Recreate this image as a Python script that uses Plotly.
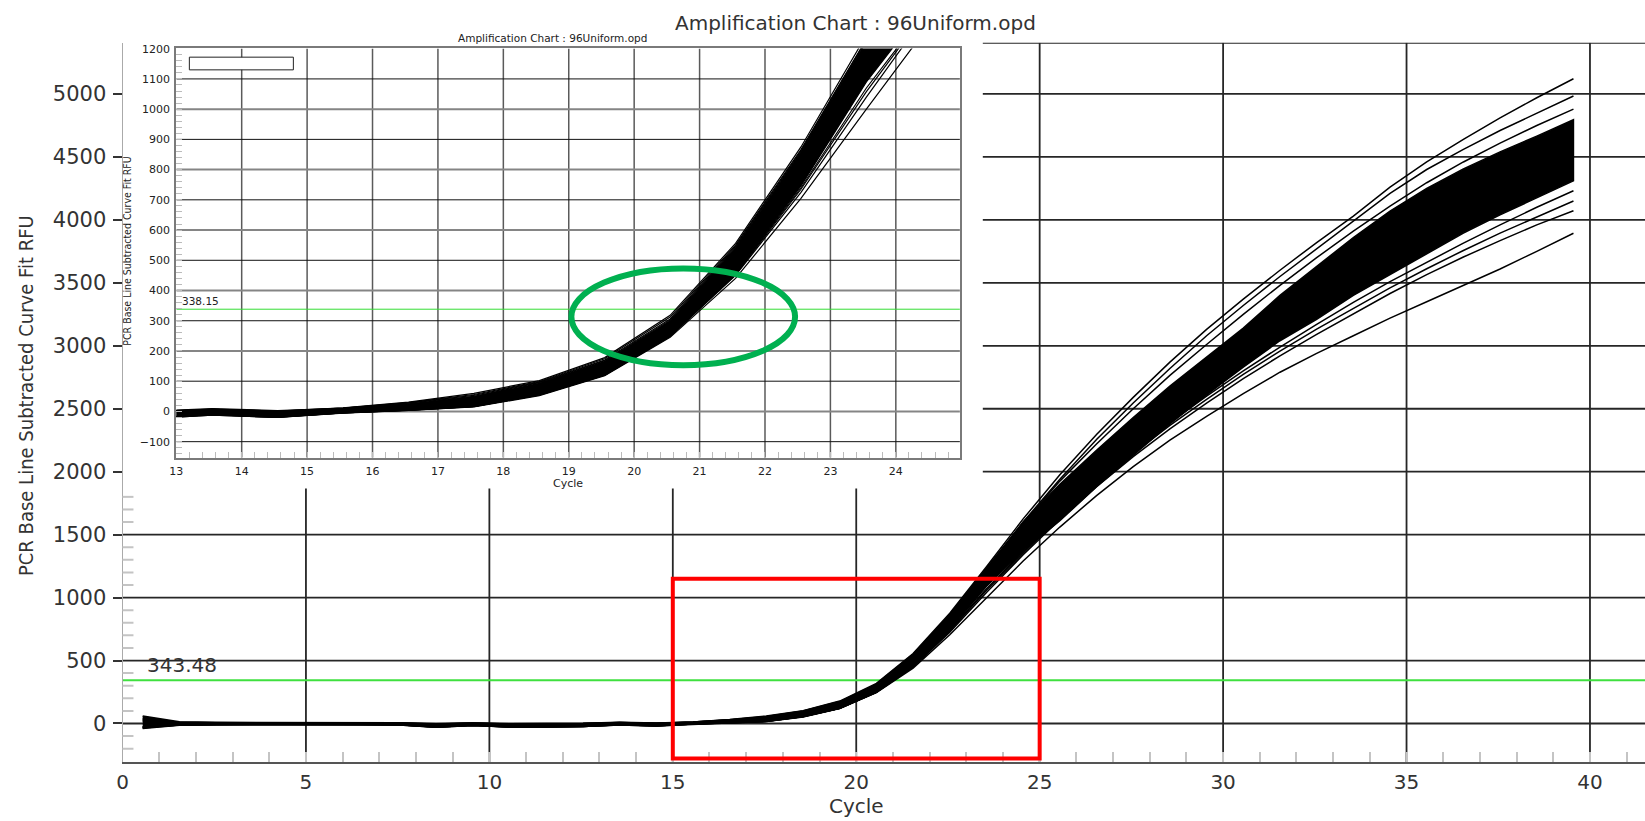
import plotly.graph_objects as go

# ---------------- data ----------------
cycles = [0.55, 1.55, 2.55, 3.55, 4.55, 5.55, 6.55, 7.55, 8.55, 9.55,
          10.55, 11.55, 12.55, 13.55, 14.55, 15.55, 16.55, 17.55, 18.55, 19.55,
          20.55, 21.55, 22.55, 23.55, 24.55, 25.55, 26.55, 27.55, 28.55, 29.55,
          30.55, 31.55, 32.55, 33.55, 34.55, 35.55, 36.55, 37.55, 38.55, 39.55]

# dense core of the ~96 wells (lower / upper envelope)
core_lo = [-40, -14, -10, -9, -8, -7, -10, -12, -30, -16, -28, -27, -24, -12, -20,
           -6, 3, 16, 55, 121, 250, 455, 746, 1090, 1370, 1610, 1880, 2130, 2380, 2610,
           2830, 3040, 3210, 3400, 3570, 3730, 3895, 4040, 4175, 4310]
core_hi = [60, 14, 9, 9, 11, 11, 7, 6, -2, 4, -2, -1, 1, 9, 3,
           11, 27, 50, 95, 168, 302, 542, 858, 1225, 1600, 1900, 2170, 2430, 2680, 2910,
           3140, 3400, 3630, 3860, 4070, 4250, 4405, 4540, 4665, 4795]

# individual wells visible outside the core
top1 = [40, 10, 6, 6, 8, 8, 4, 3, -4, 3, -4, -3, -1, 8, 1,
        12, 31, 60, 102, 178, 318, 556, 875, 1245, 1625, 1975, 2295, 2590, 2870, 3130,
        3370, 3600, 3820, 4030, 4260, 4460, 4640, 4810, 4970, 5121]
top2 = [30, 8, 5, 5, 7, 7, 3, 2, -5, 2, -5, -4, -2, 7, 0,
        11, 29, 56, 99, 174, 312, 550, 866, 1232, 1600, 1940, 2255, 2545, 2820, 3080,
        3320, 3550, 3770, 3990, 4210, 4400, 4560, 4710, 4850, 4984]
top3 = [20, 6, 4, 4, 6, 6, 2, 1, -6, 1, -6, -5, -3, 6, -1,
        10, 28, 53, 97, 170, 306, 546, 862, 1230, 1590, 1925, 2220, 2500, 2765, 3010,
        3250, 3480, 3700, 3910, 4110, 4295, 4460, 4610, 4750, 4880]
low1 = [-35, -13, -10, -9, -8, -7, -10, -12, -29, -16, -28, -27, -24, -12, -20,
        -5, 3, 15, 52, 118, 245, 440, 705, 1000, 1290, 1560, 1810, 2040, 2250, 2440,
        2620, 2790, 2940, 3080, 3220, 3350, 3480, 3610, 3750, 3894]
low2 = [-30, -12, -9, -8, -7, -6, -9, -11, -28, -15, -27, -26, -23, -11, -19,
        -4, 4, 17, 54, 120, 248, 450, 725, 1040, 1340, 1620, 1880, 2120, 2340, 2545,
        2740, 2920, 3090, 3255, 3415, 3565, 3705, 3835, 3960, 4073]
low3 = [-25, -11, -8, -7, -6, -5, -8, -10, -27, -14, -26, -25, -22, -10, -18,
        -5, 4, 17, 55, 121, 250, 455, 740, 1070, 1360, 1650, 1915, 2165, 2390, 2600,
        2800, 2990, 3170, 3345, 3510, 3665, 3815, 3960, 4100, 4231]
low4 = [-28, -12, -9, -8, -7, -6, -9, -11, -28, -15, -27, -26, -23, -11, -19,
        -5, 4, 17, 55, 121, 250, 452, 735, 1058, 1352, 1638, 1900, 2145, 2368, 2575,
        2772, 2958, 3133, 3300, 3460, 3612, 3757, 3895, 4025, 4150]

main_threshold = 343.48
inset_threshold = 338.15
main_xticks = [0, 5, 10, 15, 20, 25, 30, 35, 40]
main_yticks = [0, 500, 1000, 1500, 2000, 2500, 3000, 3500, 4000, 4500, 5000]
inset_xticks = [13, 14, 15, 16, 17, 18, 19, 20, 21, 22, 23, 24]
inset_yticks = [-100, 0, 100, 200, 300, 400, 500, 600, 700, 800, 900, 1000, 1100, 1200]

title_text = "Amplification Chart : 96Uniform.opd"
y_title = "PCR Base Line Subtracted Curve Fit RFU"
x_title = "Cycle"

# highlight marks (in axis units)
red_box = [15, 25, -278, 1149]            # main chart: x0, x1, y0, y1
green_ellipse = [19.04, 22.46, 153, 473]  # inset chart: x0, x1, y0, y1

# ---------------- geometry ----------------
W, H = 1645, 821
MAIN_L, MAIN_R, MAIN_T, MAIN_B = 116, 1645, 37, 761.7
MAIN_XR = [0, 41.5]
MAIN_YR = [-307, 5407]
INS_L, INS_R, INS_T, INS_B = 170, 957, 42.7, 455
INS_XR = [13, 24.98]
INS_YR = [-153, 1201]
# extent of the white inset panel expressed in main-axis units
PANEL_X = 23.45
PANEL_Y = 1867

FONT = "DejaVu Sans"
NARROW = "Liberation Sans Narrow, DejaVu Sans Condensed, DejaVu Sans"
TXT = "#333333"


def px(x):
    return x / W


def py(y):
    return 1 - y / H


fig = go.Figure()

well_lines = [top1, top2, top3, low1, low2, low3, low4]


def add_curves(xa, ya, lw):
    fig.add_trace(go.Scatter(
        x=cycles + cycles[::-1], y=core_hi + core_lo[::-1],
        xaxis=xa, yaxis=ya, mode="lines", fill="toself",
        fillcolor="black", line=dict(color="black", width=lw),
        hoverinfo="skip", showlegend=False))
    for w in well_lines:
        fig.add_trace(go.Scatter(
            x=cycles, y=w, xaxis=xa, yaxis=ya, mode="lines",
            line=dict(color="black", width=lw), hoverinfo="skip",
            showlegend=False))


# threshold lines
fig.add_trace(go.Scatter(x=[MAIN_XR[0], MAIN_XR[1]], y=[main_threshold] * 2,
                         mode="lines", line=dict(color="#3fe03f", width=2),
                         xaxis="x", yaxis="y", hoverinfo="skip", showlegend=False))
add_curves("x", "y", 1.5)

fig.add_trace(go.Scatter(x=[INS_XR[0], INS_XR[1]], y=[inset_threshold] * 2,
                         mode="lines", line=dict(color="#33dd33", width=1),
                         xaxis="x2", yaxis="y2", hoverinfo="skip", showlegend=False))
add_curves("x2", "y2", 1.2)

shapes = []
GRID = "#262626"
# main vertical grid lines (hidden behind the inset panel)
for v in main_xticks[1:]:
    top = MAIN_YR[1] if v > PANEL_X else PANEL_Y
    shapes.append(dict(type="line", xref="x", yref="y", x0=v, x1=v,
                       y0=MAIN_YR[0], y1=top, layer="below",
                       line=dict(color=GRID, width=1.8)))
# main horizontal grid lines
for h in main_yticks + [MAIN_YR[1]]:
    left = MAIN_XR[0] if h < PANEL_Y else PANEL_X
    shapes.append(dict(type="line", xref="x", yref="y", x0=left, x1=MAIN_XR[1],
                       y0=h, y1=h, layer="below",
                       line=dict(color=GRID, width=1.8)))
# main minor y ticks (inside), below the inset panel only
for m in range(-200, int(PANEL_Y), 100):
    if m % 500 == 0:
        continue
    shapes.append(dict(type="line", xref="x domain", yref="y", x0=0, x1=11 / (MAIN_R - MAIN_L),
                       y0=m, y1=m, layer="above",
                       line=dict(color="#c4c4c4", width=2)))

# inset grid lines
for v in inset_xticks[1:]:
    shapes.append(dict(type="line", xref="x2", yref="y2", x0=v, x1=v,
                       y0=INS_YR[0], y1=INS_YR[1], layer="below",
                       line=dict(color="#5a5a5a", width=1.5)))
for h in inset_yticks[:-1]:
    even = (h % 200 == 0)
    shapes.append(dict(type="line", xref="x2", yref="y2", x0=INS_XR[0], x1=INS_XR[1],
                       y0=h, y1=h, layer="below",
                       line=dict(color="#858585" if even else "#111111",
                                 width=2 if even else 1)))
# empty legend box of the inset
shapes.append(dict(type="rect", xref="x2", yref="y2", x0=13.2, x1=14.79, y0=1130, y1=1172,
                   layer="above", fillcolor="white", line=dict(color="#222", width=1)))
# red highlight rectangle on the main chart
shapes.append(dict(type="rect", xref="x", yref="y",
                   x0=red_box[0], x1=red_box[1], y0=red_box[2], y1=red_box[3],
                   layer="above", line=dict(color="#ff0000", width=4)))
# green ellipse on the inset
shapes.append(dict(type="circle", xref="x2", yref="y2",
                   x0=green_ellipse[0], x1=green_ellipse[1],
                   y0=green_ellipse[2], y1=green_ellipse[3],
                   layer="above", line=dict(color="#00b050", width=6)))


def paper_text(text, x, y, size, color=TXT, family=FONT, angle=0):
    return dict(text=text, x=px(x), y=py(y), xref="paper", yref="paper",
                xanchor="center", yanchor="middle", textangle=angle,
                showarrow=False, font=dict(family=family, size=size, color=color))


annotations = [
    paper_text(title_text, 852, 17, 20),
    paper_text(title_text, 548, 32, 10.5, "#222"),
    paper_text(y_title, 19, 392, 20, TXT, NARROW, -90),
    paper_text(y_title, 121, 247, 10.5, "#222", NARROW, -90),
    paper_text(x_title, 853, 806, 20),
    paper_text(x_title, 563, 481, 11, "#222"),
    dict(text=f"{main_threshold:.2f}", x=0.6, y=main_threshold, xref="x", yref="y",
         xanchor="left", yanchor="bottom", yshift=1, showarrow=False,
         font=dict(family=FONT, size=20, color=TXT)),
    dict(text=f"{inset_threshold:.2f}", x=13.05, y=inset_threshold, xref="x2", yref="y2",
         xanchor="left", yanchor="bottom", yshift=0, showarrow=False,
         font=dict(family=FONT, size=10.5, color="#222")),
]

fig.update_layout(
    width=W, height=H, margin=dict(l=0, r=0, t=0, b=0, pad=0),
    paper_bgcolor="white", plot_bgcolor="white", showlegend=False,
    shapes=shapes, annotations=annotations,
    xaxis=dict(domain=[px(MAIN_L), px(MAIN_R)], range=MAIN_XR, anchor="y",
               tickmode="array", tickvals=main_xticks,
               ticks="inside", ticklen=10, tickwidth=2, tickcolor="#c4c4c4",
               minor=dict(tickmode="linear", tick0=0, dtick=1, ticks="inside",
                          ticklen=10, tickwidth=2, tickcolor="#c4c4c4", showgrid=False),
               showgrid=False, zeroline=False, showline=True, linecolor="#555",
               linewidth=2, tickfont=dict(family=FONT, size=20, color=TXT),
               ticklabelstandoff=1),
    yaxis=dict(domain=[py(MAIN_B), py(MAIN_T)], range=MAIN_YR, anchor="x",
               tickmode="array", tickvals=main_yticks,
               ticks="outside", ticklen=9, tickwidth=2, tickcolor="#333",
               showgrid=False, zeroline=False, showline=True, linecolor="#aaaaaa",
               linewidth=1, tickfont=dict(family=FONT, size=21, color=TXT),
               ticklabelstandoff=2),
    xaxis2=dict(domain=[px(INS_L), px(INS_R)], range=INS_XR, anchor="y2",
                tickmode="array", tickvals=inset_xticks,
                ticks="inside", ticklen=6, tickwidth=1, tickcolor="#bbbbbb",
                minor=dict(tickmode="linear", tick0=13, dtick=0.2, ticks="inside",
                           ticklen=6, tickwidth=1, tickcolor="#bbbbbb", showgrid=False),
                showgrid=False, zeroline=False, showline=True, mirror=True,
                linecolor="#7a7a7a", linewidth=2,
                tickfont=dict(family=FONT, size=11, color="#222"),
                ticklabelstandoff=2),
    yaxis2=dict(domain=[py(INS_B), py(INS_T)], range=INS_YR, anchor="x2",
                tickmode="array", tickvals=inset_yticks,
                ticks="inside", ticklen=6, tickwidth=1, tickcolor="#bbbbbb",
                minor=dict(tickmode="linear", tick0=0, dtick=20, ticks="inside",
                           ticklen=6, tickwidth=1, tickcolor="#bbbbbb", showgrid=False),
                showgrid=False, zeroline=False, showline=True, mirror=True,
                linecolor="#7a7a7a", linewidth=2,
                tickfont=dict(family=FONT, size=11, color="#222"),
                ticklabelstandoff=2),
)

fig.write_html("out.html")
